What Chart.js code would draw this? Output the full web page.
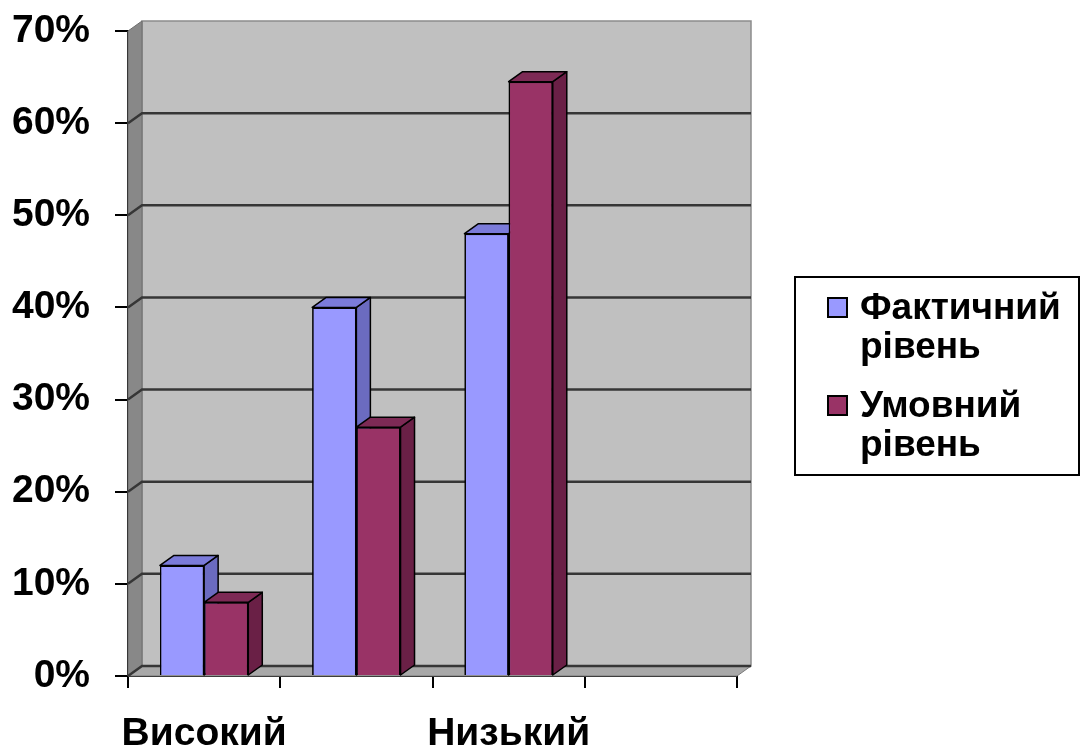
<!DOCTYPE html>
<html><head><meta charset="utf-8">
<script src="https://cdn.jsdelivr.net/npm/chart.js@4"></script>
<style>html,body{margin:0;padding:0;background:#fff}#wrap{width:1082px;height:752px;position:relative}</style>
</head><body><div id="wrap"><canvas id="c"></canvas></div>
<script>
const categories = ['Високий', '', 'Низький', ''];
const seriesNames = ['Фактичний рівень', 'Умовний рівень'];
const factual = [12, 40, 48, null];
const conditional = [8, 27, 64.5, null];
const yTickValues = [0, 10, 20, 30, 40, 50, 60, 70];

const FONT = "'Liberation Sans', Arial, sans-serif";
const DEPTH = { dx: 14, dy: -10 };
const faceColors = [
  { front: '#9999FF', top: '#7B7BDA', side: '#6B6BC0' },
  { front: '#993366', top: '#7D2A55', side: '#6A2046' }
];

const wallsPlugin = {
  id: 'walls',
  beforeDatasetsDraw(chart) {
    const ctx = chart.ctx, ca = chart.chartArea, ys = chart.scales.y;
    const L = ca.left, R = ca.right, T = ca.top, B = ca.bottom, dx = DEPTH.dx, dy = DEPTH.dy;
    ctx.save();
    ctx.fillStyle = '#C0C0C0';
    ctx.fillRect(L + dx, T + dy, R - L, B - T);
    ctx.strokeStyle = '#8C8C8C'; ctx.lineWidth = 1.5;
    ctx.strokeRect(L + dx, T + dy, R - L, B - T);
    ctx.beginPath();
    ctx.moveTo(L, T); ctx.lineTo(L + dx, T + dy); ctx.lineTo(L + dx, B + dy); ctx.lineTo(L, B); ctx.closePath();
    ctx.fillStyle = '#888888'; ctx.fill();
    ctx.strokeStyle = '#6E6E6E'; ctx.lineWidth = 1; ctx.stroke();
    ctx.beginPath();
    ctx.moveTo(L, B); ctx.lineTo(L + dx, B + dy); ctx.lineTo(R + dx, B + dy); ctx.lineTo(R, B); ctx.closePath();
    ctx.fillStyle = '#A8A8A8'; ctx.fill();
    ctx.strokeStyle = '#7A7A7A'; ctx.lineWidth = 1; ctx.stroke();
    yTickValues.forEach(v => {
      if (v === ys.max) return;
      const y = ys.getPixelForValue(v);
      ctx.beginPath();
      ctx.moveTo(L, y); ctx.lineTo(L + dx, y + dy); ctx.lineTo(R + dx, y + dy);
      ctx.strokeStyle = '#363636'; ctx.lineWidth = 2.5; ctx.stroke();
    });
    ctx.restore();
  }
};

const barsPlugin = {
  id: 'bars3d',
  afterDatasetsDraw(chart) {
    const ctx = chart.ctx, dx = DEPTH.dx, dy = DEPTH.dy;
    ctx.save();
    ctx.lineJoin = 'round';
    for (let i = 0; i < categories.length; i++) {
      chart.data.datasets.forEach((ds, d) => {
        if (ds.data[i] == null) return;
        const el = chart.getDatasetMeta(d).data[i];
        const p = el.getProps(['x', 'y', 'base', 'width'], true);
        const l = p.x - p.width / 2, r = p.x + p.width / 2;
        const c = faceColors[d];
        ctx.lineWidth = 1.5; ctx.strokeStyle = '#000';
        ctx.beginPath();
        ctx.moveTo(r, p.y); ctx.lineTo(r + dx, p.y + dy); ctx.lineTo(r + dx, p.base + dy); ctx.lineTo(r, p.base); ctx.closePath();
        ctx.fillStyle = c.side; ctx.fill(); ctx.stroke();
        ctx.beginPath();
        ctx.moveTo(l, p.y); ctx.lineTo(l + dx, p.y + dy); ctx.lineTo(r + dx, p.y + dy); ctx.lineTo(r, p.y); ctx.closePath();
        ctx.fillStyle = c.top; ctx.fill(); ctx.stroke();
        el.draw(ctx);
      });
    }
    ctx.restore();
  }
};

const legendPlugin = {
  id: 'boxLegend',
  afterDraw(chart) {
    const ctx = chart.ctx;
    ctx.save();
    ctx.strokeStyle = '#000'; ctx.lineWidth = 2;
    ctx.strokeRect(795, 277, 284, 198);
    const itemTops = [298, 396];
    ctx.font = 'bold 37px ' + FONT;
    ctx.textBaseline = 'alphabetic'; ctx.textAlign = 'left';
    chart.data.datasets.forEach((ds, d) => {
      const t = itemTops[d];
      ctx.fillStyle = ds.backgroundColor;
      ctx.fillRect(828, t, 19, 19);
      ctx.lineWidth = 2; ctx.strokeStyle = '#000';
      ctx.strokeRect(828, t, 19, 19);
      ctx.fillStyle = '#000';
      ds.label.split(' ').forEach((line, k) => {
        ctx.fillText(line, 860, t + 21 + k * 39);
      });
    });
    ctx.restore();
  }
};

new Chart(document.getElementById('c'), {
  type: 'bar',
  data: {
    labels: categories,
    datasets: [
      { label: seriesNames[0], data: factual, backgroundColor: faceColors[0].front, borderColor: '#000', borderWidth: 1.5 },
      { label: seriesNames[1], data: conditional, backgroundColor: faceColors[1].front, borderColor: '#000', borderWidth: 1.5 }
    ]
  },
  options: {
    responsive: true,
    maintainAspectRatio: false,
    animation: false,
    categoryPercentage: 0.58,
    barPercentage: 1.0,
    layout: { padding: { left: 12, top: 31, right: 345, bottom: 0 } },
    plugins: { legend: { display: false }, tooltip: { enabled: false } },
    scales: {
      x: {
        offset: true,
        afterFit(scale) { scale.height = 76; },
        grid: { offset: true, drawOnChartArea: false, drawTicks: true, tickLength: 12, color: '#000', lineWidth: 2 },
        border: { display: true, color: '#000', width: 2 },
        ticks: { autoSkip: false, maxRotation: 0, color: '#000', padding: 27,
                 font: { family: FONT, weight: 'bold', size: 39, lineHeight: 1 } }
      },
      y: {
        min: 0, max: 70,
        afterFit(scale) { scale.width = 116; scale.paddingTop = 0; scale.paddingBottom = 0; },
        afterBuildTicks(scale) { scale.ticks = yTickValues.map(v => ({ value: v })); },
        grid: { drawOnChartArea: false, drawTicks: true, tickLength: 13, color: '#000', lineWidth: 2 },
        border: { display: true, color: '#000', width: 2 },
        ticks: { color: '#000', padding: 25, callback: v => v + '%',
                 font: { family: FONT, weight: 'bold', size: 39 } }
      }
    }
  },
  plugins: [wallsPlugin, barsPlugin, legendPlugin]
});
</script></body></html>
